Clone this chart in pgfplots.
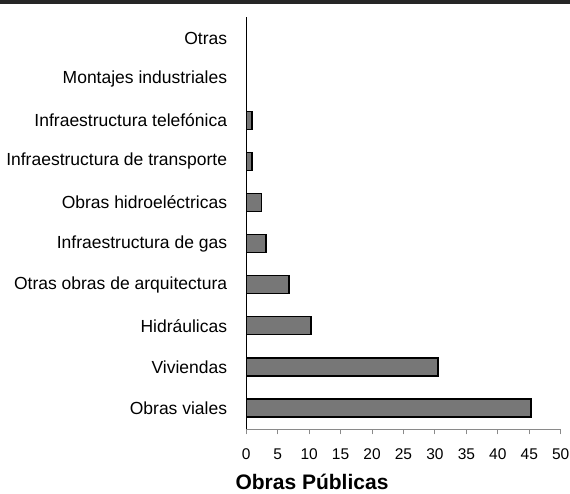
\documentclass[border=0pt]{standalone}
\usepackage{fontspec}
\setmainfont{Liberation Sans}
\usepackage{pgfplots}
\pgfplotsset{compat=1.18}
\definecolor{barfill}{HTML}{777777}
\definecolor{axgray}{HTML}{8A8A8A}

\begin{document}
\begin{tikzpicture}
  \useasboundingbox (-246.3pt,-64.7pt) rectangle (323.7pt,429.3pt);
  \fill[black!85] (-246.3pt,424.8pt) rectangle (323.7pt,429.3pt);
  \begin{axis}[
      scale only axis,
      width=314.4pt,
      height=412.6pt,
      xbar,
      bar width=18pt,
      xmin=0, xmax=50,
      ymin=-0.52, ymax=9.52,
      xtick={0,5,...,50},
      ytick={0,...,9},
      yticklabels={Obras viales, Viviendas, Hidráulicas, Otras obras de arquitectura, Infraestructura de gas, Obras hidroeléctricas, Infraestructura de transporte, Infraestructura telefónica, Montajes industriales, Otras},
      axis x line=bottom,
      axis y line=left,
      axis line style={-},
      x axis line style={draw=axgray, line width=1.2pt},
      y axis line style={draw=black, line width=1.2pt},
      tick align=outside,
      major tick length=5pt,
      xtick style={draw=axgray, line width=1pt},
      ytick style={draw=none},
      /pgf/number format/assume math mode=true,
      xticklabel style={font=\fontsize{15.5}{18}\selectfont, inner sep=0pt, yshift=-14pt},
      yticklabel style={font=\fontsize{17.5}{20}\selectfont, inner sep=0pt, xshift=-14pt},
      xlabel={\textbf{Obras Públicas}},
      xlabel style={font=\fontsize{21}{24}\selectfont, at={(axis description cs:0.209,0)}, anchor=base, yshift=-60pt},
      clip=false,
    ]
    \addplot[fill=barfill, draw=black, line width=1.5pt] coordinates {
      (45.3,0) (30.5,1) (10.3,2) (6.8,3) (3.1,4) (2.4,5) (0.9,6) (0.9,7)
    };
  \end{axis}
\end{tikzpicture}
\end{document}
